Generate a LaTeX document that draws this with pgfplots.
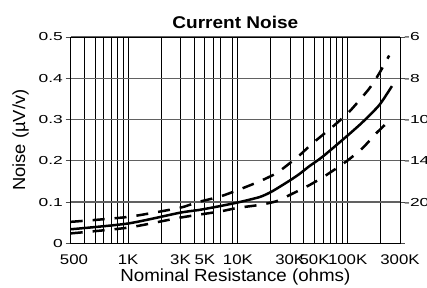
\documentclass[border=0pt]{standalone}
\usepackage{pgfplots}
\pgfplotsset{compat=1.18}
\usepackage{fontspec}
\setmainfont{Liberation Sans}
\newfontfamily\lrfont[FakeStretch=1.5]{Liberation Sans}
\newfontfamily\bfont[FakeStretch=1.2]{Liberation Sans}
\newfontfamily\tfont[FakeStretch=1.12]{Liberation Sans}
\newfontfamily\xlfont[FakeStretch=1.07]{Liberation Sans}
\newfontfamily\ylfont[FakeStretch=1.05]{Liberation Sans}
\begin{document}
\begin{tikzpicture}[x=1bp,y=1bp]
\begin{axis}[
  at={(70.7bp,44.7bp)}, anchor=south west,
  width=329.3bp, height=206.3bp, scale only axis,
  xmode=log, xmin=300, xmax=300000, ymin=0, ymax=0.5,
  xtick={300,1000,3000,5000,10000,30000,50000,100000,300000},
  xticklabels={\hspace*{6.6bp}500,1K,3K,5K,10K,30K,50K,100K,300K},
  minor xtick={400,500,600,700,800,900,2000,4000,6000,7000,9000,20000,40000,60000,70000,80000,90000,200000},
  ytick={0,0.1,0.2,0.3,0.4,0.5},
  yticklabels={0,0.1,0.2,0.3,0.4,0.5},
  xmajorgrids, xminorgrids, ymajorgrids,
  x grid style={black, line width=1bp},
  y grid style={black!62, line width=1.3bp},
  axis line style={black, line width=1bp},
  major tick length=5bp, tick align=outside,
  xtick style={draw=none}, minor tick length=0pt,
  ytick style={black!70, line width=1bp},
  xticklabel style={font=\bfont\fontsize{14bp}{16bp}\selectfont, inner sep=0pt, anchor=north, yshift=-6.7bp},
  yticklabel style={font=\lrfont\fontsize{11.6bp}{13bp}\selectfont, inner sep=0pt, anchor=east, xshift=-2.7bp},
  title={Current Noise},
  title style={font=\tfont\bfseries\fontsize{17bp}{19bp}\selectfont, at={(0.5,1.0422)}, anchor=base, inner sep=0pt, yshift=-6pt},
  xlabel={Nominal Resistance (ohms)},
  xlabel style={font=\xlfont\fontsize{17.5bp}{20bp}\selectfont, at={(0.5,-0.18275)}, anchor=base, inner sep=0pt},
  ylabel={Noise (µV/v)},
  ylabel style={font=\ylfont\fontsize{17.5bp}{20bp}\selectfont, at={(-0.13878,0.5)}, anchor=base, inner sep=0pt},
  clip=false,
]
% solid (nominal)
\addplot[black, line width=2.5bp, smooth, tension=0.4] coordinates {
 (300,0.034) (1000,0.048) (2950,0.074) (4480,0.081) (6820,0.090) (10000,0.099)
 (15740,0.112) (20240,0.125) (29650,0.152) (36380,0.168) (44860,0.187)
 (59250,0.210) (96700,0.258) (136000,0.293) (194200,0.335) (253300,0.381)};
% upper dashed
\addplot[black, line width=2.5bp, dash pattern=on 12bp off 10bp, smooth, tension=0.4] coordinates {
 (300,0.052) (1000,0.064) (2950,0.086) (4200,0.099) (6820,0.113) (10000,0.129)
 (15740,0.150) (22480,0.170) (29650,0.194) (36380,0.213) (47750,0.242)
 (72600,0.282) (103600,0.319) (157400,0.375) (194200,0.412) (239000,0.455)};
% lower dashed
\addplot[black, line width=2.5bp, dash pattern=on 12bp off 10bp, smooth, tension=0.4] coordinates {
 (300,0.024) (1000,0.038) (2950,0.062) (6820,0.077) (10000,0.086) (15740,0.093)
 (22480,0.102) (29650,0.117) (44860,0.141) (63640,0.165) (96700,0.198)
 (136000,0.230) (181100,0.266) (239300,0.297)};
\end{axis}
\begin{axis}[
  at={(70.7bp,44.7bp)}, anchor=south west,
  width=329.3bp, height=206.3bp, scale only axis,
  xmode=log, xmin=300, xmax=300000, ymin=0, ymax=0.5,
  axis x line=none, axis y line*=right,
  axis line style={black, line width=1bp},
  ytick={0.1,0.2,0.3,0.4,0.5},
  yticklabels={-20,-14,-10,-8,-6},
  ytick style={draw=none},
  yticklabel style={font=\lrfont\fontsize{11.6bp}{13bp}\selectfont, inner sep=0pt, anchor=west, xshift=4bp},
]
\end{axis}
\pgfresetboundingbox
\useasboundingbox (0,0) rectangle (427,288);
\end{tikzpicture}
\end{document}
